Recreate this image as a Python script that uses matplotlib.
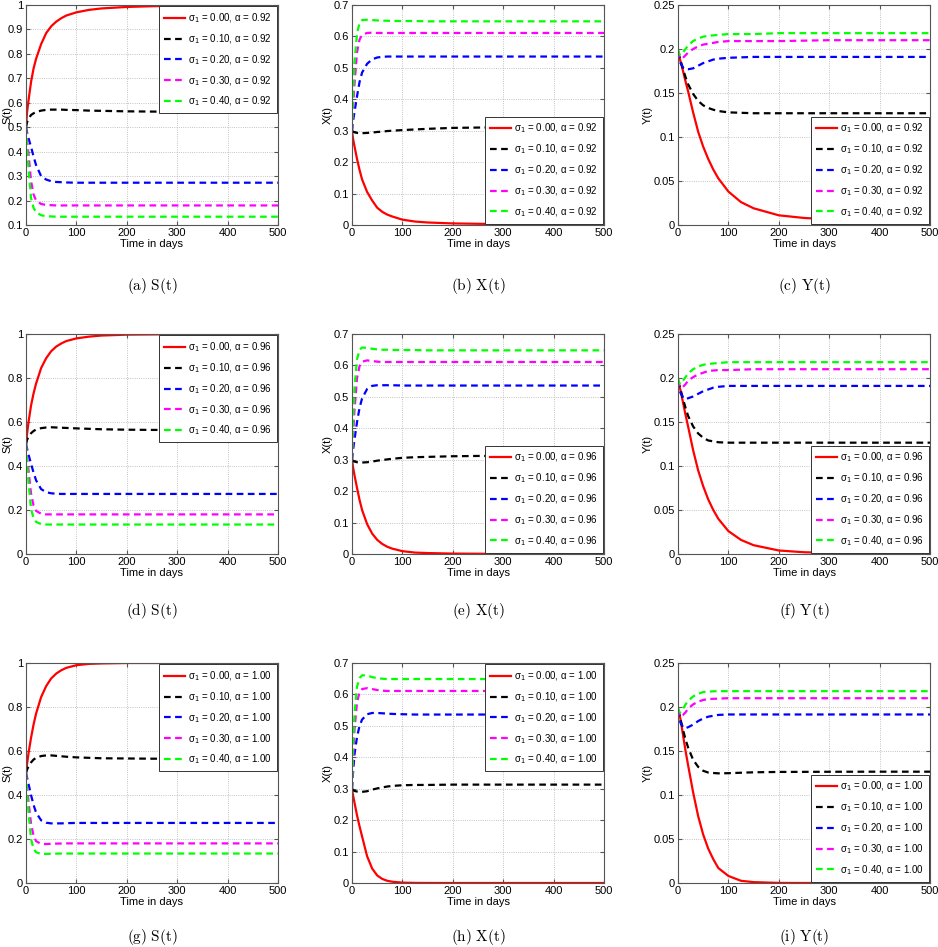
import numpy as np
import matplotlib
matplotlib.use("Agg")
import matplotlib.pyplot as plt
from matplotlib.ticker import FuncFormatter, MultipleLocator

plt.rcParams['font.family'] = ['Liberation Sans Narrow', 'Liberation Sans', 'DejaVu Sans']
plt.rcParams['mathtext.fontset'] = 'custom'
plt.rcParams['mathtext.rm'] = 'Liberation Sans Narrow'
plt.rcParams['mathtext.it'] = 'Liberation Sans Narrow'

# time points (days)
t_days = [0, 2, 5, 10, 15, 20, 30, 40, 50, 60, 70, 80, 100, 125, 150, 200, 250, 300, 400, 500]

sigmas = [0.00, 0.10, 0.20, 0.30, 0.40]
alphas = [0.92, 0.96, 1.00]
colors = ['red', 'black', 'blue', 'magenta', 'lime']

# ---- alpha = 0.92 ----
S_092 = [
    [0.50, 0.56, 0.61, 0.685, 0.74, 0.78, 0.84, 0.885, 0.913, 0.932, 0.946, 0.957, 0.970, 0.980, 0.986, 0.992, 0.995, 0.997, 0.999, 1.0],
    [0.50, 0.52, 0.535, 0.55, 0.557, 0.562, 0.568, 0.571, 0.572, 0.572, 0.572, 0.571, 0.570, 0.568, 0.567, 0.565, 0.564, 0.563, 0.563, 0.563],
    [0.50, 0.48, 0.455, 0.42, 0.38, 0.345, 0.30, 0.286, 0.279, 0.276, 0.275, 0.274, 0.273, 0.273, 0.273, 0.273, 0.273, 0.273, 0.273, 0.273],
    [0.50, 0.45, 0.39, 0.28, 0.225, 0.20, 0.186, 0.182, 0.181, 0.180, 0.180, 0.180, 0.180, 0.180, 0.180, 0.180, 0.180, 0.180, 0.180, 0.180],
    [0.50, 0.43, 0.33, 0.21, 0.17, 0.152, 0.140, 0.136, 0.135, 0.134, 0.134, 0.134, 0.134, 0.134, 0.134, 0.134, 0.134, 0.134, 0.134, 0.134],
]
X_092 = [
    [0.30, 0.275, 0.25, 0.21, 0.175, 0.145, 0.105, 0.078, 0.055, 0.042, 0.033, 0.027, 0.017, 0.011, 0.008, 0.005, 0.0038, 0.003, 0.0022, 0.0018],
    [0.30, 0.297, 0.295, 0.293, 0.292, 0.292, 0.293, 0.294, 0.296, 0.297, 0.299, 0.300, 0.302, 0.304, 0.306, 0.309, 0.310, 0.311, 0.312, 0.313],
    [0.30, 0.33, 0.36, 0.41, 0.455, 0.485, 0.513, 0.527, 0.533, 0.535, 0.536, 0.536, 0.536, 0.536, 0.536, 0.536, 0.536, 0.536, 0.536, 0.536],
    [0.30, 0.37, 0.45, 0.55, 0.59, 0.605, 0.611, 0.612, 0.611, 0.611, 0.611, 0.611, 0.611, 0.611, 0.611, 0.611, 0.611, 0.611, 0.611, 0.611],
    [0.30, 0.40, 0.52, 0.61, 0.643, 0.652, 0.653, 0.652, 0.651, 0.650, 0.650, 0.649, 0.649, 0.649, 0.648, 0.648, 0.648, 0.648, 0.648, 0.648],
]
Y_092 = [
    [0.195, 0.192, 0.186, 0.175, 0.163, 0.152, 0.128, 0.106, 0.089, 0.075, 0.063, 0.053, 0.038, 0.026, 0.019, 0.011, 0.008, 0.0065, 0.004, 0.003],
    [0.197, 0.193, 0.187, 0.177, 0.168, 0.160, 0.149, 0.141, 0.136, 0.133, 0.131, 0.1295, 0.128, 0.1275, 0.127, 0.127, 0.127, 0.127, 0.127, 0.127],
    [0.197, 0.190, 0.184, 0.179, 0.177, 0.177, 0.178, 0.181, 0.184, 0.186, 0.188, 0.189, 0.190, 0.1905, 0.191, 0.191, 0.191, 0.191, 0.191, 0.191],
    [0.198, 0.192, 0.189, 0.190, 0.193, 0.196, 0.200, 0.203, 0.205, 0.206, 0.207, 0.208, 0.209, 0.209, 0.209, 0.209, 0.2095, 0.210, 0.210, 0.210],
    [0.200, 0.195, 0.193, 0.196, 0.200, 0.204, 0.209, 0.212, 0.214, 0.215, 0.2155, 0.216, 0.217, 0.217, 0.217, 0.218, 0.218, 0.218, 0.218, 0.218],
]

# ---- alpha = 0.96 ----
S_096 = [
    [0.50, 0.545, 0.60, 0.675, 0.73, 0.775, 0.845, 0.89, 0.922, 0.943, 0.957, 0.968, 0.980, 0.988, 0.993, 0.997, 0.998, 0.999, 1.0, 1.0],
    [0.50, 0.518, 0.533, 0.549, 0.559, 0.566, 0.572, 0.575, 0.576, 0.575, 0.574, 0.573, 0.571, 0.569, 0.567, 0.565, 0.564, 0.564, 0.564, 0.564],
    [0.50, 0.48, 0.452, 0.41, 0.37, 0.335, 0.295, 0.281, 0.276, 0.274, 0.273, 0.273, 0.273, 0.273, 0.273, 0.273, 0.273, 0.273, 0.273, 0.273],
    [0.50, 0.445, 0.38, 0.275, 0.22, 0.196, 0.183, 0.180, 0.180, 0.180, 0.180, 0.180, 0.180, 0.180, 0.180, 0.180, 0.180, 0.180, 0.180, 0.180],
    [0.50, 0.425, 0.325, 0.205, 0.163, 0.146, 0.136, 0.134, 0.134, 0.134, 0.134, 0.134, 0.134, 0.134, 0.134, 0.134, 0.134, 0.134, 0.134, 0.134],
]
X_096 = [
    [0.30, 0.277, 0.25, 0.21, 0.172, 0.14, 0.095, 0.065, 0.045, 0.032, 0.023, 0.017, 0.009, 0.0045, 0.003, 0.0013, 0.0008, 0.0005, 0.0003, 0.0002],
    [0.30, 0.296, 0.294, 0.292, 0.291, 0.291, 0.292, 0.294, 0.297, 0.299, 0.301, 0.303, 0.306, 0.308, 0.309, 0.311, 0.312, 0.312, 0.313, 0.313],
    [0.30, 0.33, 0.365, 0.42, 0.465, 0.495, 0.525, 0.535, 0.537, 0.537, 0.537, 0.537, 0.536, 0.536, 0.536, 0.536, 0.536, 0.536, 0.536, 0.536],
    [0.30, 0.37, 0.46, 0.56, 0.598, 0.612, 0.616, 0.614, 0.612, 0.611, 0.611, 0.611, 0.611, 0.611, 0.611, 0.611, 0.611, 0.611, 0.611, 0.611],
    [0.30, 0.41, 0.53, 0.62, 0.650, 0.657, 0.656, 0.653, 0.651, 0.650, 0.650, 0.649, 0.649, 0.649, 0.648, 0.648, 0.648, 0.648, 0.648, 0.648],
]
Y_096 = [
    [0.195, 0.192, 0.186, 0.172, 0.158, 0.145, 0.118, 0.095, 0.077, 0.062, 0.050, 0.040, 0.026, 0.016, 0.010, 0.004, 0.002, 0.0012, 0.0006, 0.0004],
    [0.197, 0.193, 0.187, 0.176, 0.166, 0.157, 0.145, 0.137, 0.132, 0.129, 0.128, 0.127, 0.1265, 0.1265, 0.1265, 0.1265, 0.1265, 0.1265, 0.1265, 0.1265],
    [0.197, 0.190, 0.183, 0.178, 0.176, 0.177, 0.179, 0.182, 0.185, 0.187, 0.189, 0.190, 0.191, 0.191, 0.191, 0.191, 0.191, 0.191, 0.191, 0.191],
    [0.198, 0.192, 0.189, 0.190, 0.193, 0.197, 0.201, 0.204, 0.206, 0.208, 0.2085, 0.209, 0.209, 0.2095, 0.210, 0.210, 0.210, 0.210, 0.210, 0.210],
    [0.200, 0.195, 0.193, 0.197, 0.201, 0.205, 0.210, 0.213, 0.215, 0.216, 0.2165, 0.217, 0.218, 0.218, 0.218, 0.218, 0.218, 0.218, 0.218, 0.218],
]

# ---- alpha = 1.00 ----
S_100 = [
    [0.50, 0.54, 0.59, 0.66, 0.72, 0.77, 0.845, 0.895, 0.93, 0.952, 0.967, 0.978, 0.990, 0.996, 0.998, 1.0, 1.0, 1.0, 1.0, 1.0],
    [0.50, 0.515, 0.53, 0.548, 0.561, 0.569, 0.577, 0.580, 0.580, 0.578, 0.576, 0.574, 0.571, 0.569, 0.567, 0.566, 0.565, 0.565, 0.565, 0.565],
    [0.50, 0.48, 0.45, 0.40, 0.355, 0.32, 0.285, 0.274, 0.271, 0.271, 0.271, 0.272, 0.273, 0.273, 0.273, 0.273, 0.273, 0.273, 0.273, 0.273],
    [0.50, 0.44, 0.37, 0.27, 0.215, 0.19, 0.178, 0.177, 0.178, 0.179, 0.1795, 0.180, 0.180, 0.180, 0.180, 0.180, 0.180, 0.180, 0.180, 0.180],
    [0.50, 0.42, 0.32, 0.20, 0.155, 0.14, 0.132, 0.132, 0.133, 0.1335, 0.134, 0.134, 0.134, 0.134, 0.134, 0.134, 0.134, 0.134, 0.134, 0.134],
]
X_100 = [
    [0.30, 0.28, 0.255, 0.215, 0.18, 0.148, 0.085, 0.046, 0.024, 0.013, 0.007, 0.004, 0.0012, 0.0003, 0.0001, 0.0, 0.0, 0.0, 0.0, 0.0],
    [0.30, 0.296, 0.293, 0.291, 0.290, 0.290, 0.292, 0.297, 0.301, 0.304, 0.307, 0.309, 0.311, 0.312, 0.312, 0.313, 0.313, 0.313, 0.313, 0.313],
    [0.30, 0.35, 0.41, 0.465, 0.50, 0.52, 0.537, 0.541, 0.541, 0.540, 0.539, 0.538, 0.537, 0.536, 0.536, 0.536, 0.536, 0.536, 0.536, 0.536],
    [0.30, 0.39, 0.49, 0.575, 0.607, 0.617, 0.620, 0.617, 0.614, 0.612, 0.611, 0.611, 0.611, 0.611, 0.611, 0.611, 0.611, 0.611, 0.611, 0.611],
    [0.30, 0.42, 0.54, 0.625, 0.652, 0.661, 0.660, 0.655, 0.652, 0.650, 0.649, 0.649, 0.649, 0.649, 0.649, 0.649, 0.649, 0.649, 0.649, 0.649],
]
Y_100 = [
    [0.195, 0.193, 0.186, 0.168, 0.150, 0.134, 0.103, 0.076, 0.055, 0.039, 0.027, 0.017, 0.008, 0.0025, 0.001, 0.0001, 0.0, 0.0, 0.0, 0.0],
    [0.197, 0.193, 0.186, 0.174, 0.163, 0.154, 0.140, 0.132, 0.1275, 0.1255, 0.125, 0.1246, 0.1248, 0.1253, 0.1258, 0.1262, 0.1263, 0.1264, 0.1265, 0.1265],
    [0.197, 0.190, 0.182, 0.177, 0.176, 0.177, 0.180, 0.184, 0.187, 0.189, 0.190, 0.191, 0.1915, 0.1915, 0.1915, 0.1915, 0.1915, 0.1915, 0.1915, 0.1915],
    [0.198, 0.192, 0.189, 0.191, 0.194, 0.198, 0.203, 0.206, 0.208, 0.209, 0.2093, 0.2095, 0.210, 0.210, 0.210, 0.210, 0.210, 0.210, 0.210, 0.210],
    [0.200, 0.195, 0.194, 0.198, 0.203, 0.207, 0.212, 0.215, 0.217, 0.2175, 0.2178, 0.218, 0.218, 0.218, 0.218, 0.218, 0.218, 0.218, 0.218, 0.218],
]

panels = [
    [(S_092, 'S(t)', 'a'), (X_092, 'X(t)', 'b'), (Y_092, 'Y(t)', 'c')],
    [(S_096, 'S(t)', 'd'), (X_096, 'X(t)', 'e'), (Y_096, 'Y(t)', 'f')],
    [(S_100, 'S(t)', 'g'), (X_100, 'X(t)', 'h'), (Y_100, 'Y(t)', 'i')],
]
legend_locs = [
    ['upper right', 'lower right', 'lower right'],
    ['upper right', 'lower right', 'lower right'],
    ['upper right', 'upper right', 'lower right'],
]
ylims = {'S(t)': (0, 1, 0.2), 'X(t)': (0, 0.7, 0.1), 'Y(t)': (0, 0.25, 0.05)}

W, H = 938, 947
fig = plt.figure(figsize=(W / 100, H / 100), dpi=100)

col_left = [26, 352, 678]
ax_w = 252
row_top = [5, 334, 663]
ax_h = 220
caption_y = [286, 611, 937]
ylabel_off = [-14, -19, -25]   # px from axes left to right edge of y label

fmt = FuncFormatter(lambda v, _: '%g' % round(v, 4))

for r in range(3):
    for c in range(3):
        data, ylab, letter = panels[r][c]
        ax = fig.add_axes([col_left[c] / W, 1 - (row_top[r] + ax_h) / H, ax_w / W, ax_h / H])
        for k in range(5):
            lab = 'σ$_1$ = %.2f, α = %.2f' % (sigmas[k], alphas[r])
            if k == 0:
                ax.plot(t_days, data[k], color=colors[k], lw=1.6, label=lab)
            else:
                ax.plot(t_days, data[k], color=colors[k], lw=1.6, ls=(0, (3, 2)), label=lab)
        y0, y1, step = ylims[ylab]
        if r == 0 and c == 0:
            y0, step = 0.1, 0.1
        ax.set_xlim(0, 500)
        ax.set_ylim(y0, y1)
        ax.xaxis.set_major_locator(MultipleLocator(100))
        ax.yaxis.set_major_locator(MultipleLocator(step))
        ax.xaxis.set_major_formatter(fmt)
        ax.yaxis.set_major_formatter(fmt)
        ax.grid(True, ls=':', color='#b0b0b0', lw=0.6)
        ax.tick_params(direction='in', length=3, labelsize=8, pad=2,
                       top=True, right=True, color='#555555')
        for sp in ax.spines.values():
            sp.set_color('#555555')
            sp.set_linewidth(0.8)
        ax.set_xlabel('Time in days', fontsize=8, labelpad=1)
        ax.set_ylabel(ylab, fontsize=8)
        ax.yaxis.set_label_coords(ylabel_off[c] / ax_w, 0.5)
        leg = ax.legend(loc=legend_locs[r][c], fontsize=7, frameon=True, fancybox=False,
                        framealpha=1, edgecolor='#333333', borderaxespad=0.15,
                        handlelength=2.2, handletextpad=0.3, labelspacing=0.75,
                        borderpad=0.5)
        leg.get_frame().set_linewidth(0.7)
        cx = (col_left[c] + ax_w / 2) / W
        fig.text(cx, 1 - caption_y[r] / H, r'$\mathrm{(%s)\ %s}$' % (letter, ylab),
                 ha='center', va='center', fontsize=11, math_fontfamily='cm')

fig.savefig('out.png', dpi=100)
